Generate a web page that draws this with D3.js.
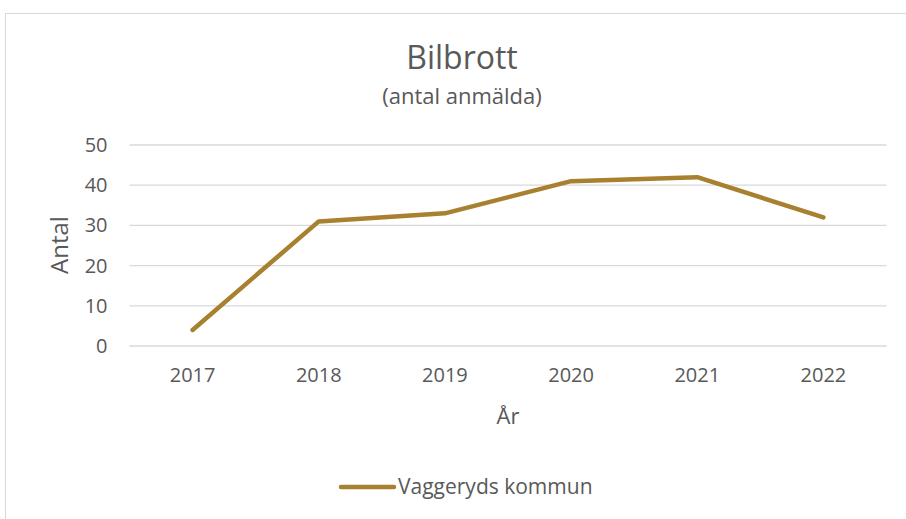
<!doctype html>
<html lang="sv">
<head>
<meta charset="utf-8">
<title>Bilbrott</title>
<style>
  body { margin: 0; background: #fff; }
  svg text { font-family: "Open Sans", "Noto Sans", sans-serif; fill: #595959; }
</style>
</head>
<body>
<div id="chart"></div>
<script src="https://cdn.jsdelivr.net/npm/d3@7"></script>
<script>
const years = ["2017", "2018", "2019", "2020", "2021", "2022"];
const values = [4, 31, 33, 41, 42, 32];
const yTicks = [0, 10, 20, 30, 40, 50];
const seriesName = "Vaggeryds kommun";

const width = 906, height = 519;
const plot = {left: 129.5, right: 886.5, top: 145, bottom: 346};
const lineColor = "#a7812f";

const svg = d3.select("#chart").append("svg")
  .attr("width", width)
  .attr("height", height);

// chart area border
svg.append("rect")
  .attr("x", 5.5).attr("y", 13.5)
  .attr("width", 920).attr("height", 520)
  .attr("fill", "#fff")
  .attr("stroke", "#d9d9d9");

const x = d3.scaleBand().domain(years).range([plot.left, plot.right]);
const y = d3.scaleLinear().domain([0, 50]).range([plot.bottom, plot.top]);

// gridlines
svg.append("g")
  .selectAll("line")
  .data(yTicks)
  .join("line")
  .attr("x1", plot.left).attr("x2", plot.right)
  .attr("y1", d => y(d)).attr("y2", d => y(d))
  .attr("stroke", "#d9d9d9")
  .attr("stroke-width", 1.3);

// y axis labels
const yAxis = svg.append("g")
  .attr("transform", "translate(" + plot.left + ",0)")
  .call(d3.axisLeft(y).tickValues(yTicks).tickSize(0).tickPadding(22));
yAxis.select(".domain").remove();
yAxis.selectAll("text").attr("font-size", 20).attr("fill", "#595959")
  .style("font-family", "'Open Sans', sans-serif");

// x axis labels
const xAxis = svg.append("g")
  .attr("transform", "translate(0," + plot.bottom + ")")
  .call(d3.axisBottom(x).tickSize(0).tickPadding(22));
xAxis.select(".domain").remove();
xAxis.selectAll("text").attr("font-size", 20).attr("fill", "#595959")
  .style("font-family", "'Open Sans', sans-serif");

// line
const line = d3.line()
  .x((d, i) => x(years[i]) + x.bandwidth() / 2)
  .y(d => y(d));

svg.append("path")
  .datum(values)
  .attr("d", line)
  .attr("fill", "none")
  .attr("stroke", lineColor)
  .attr("stroke-width", 4.5)
  .attr("stroke-linecap", "round")
  .attr("stroke-linejoin", "round");

// titles
svg.append("text")
  .attr("x", 462).attr("y", 69)
  .attr("text-anchor", "middle")
  .attr("font-size", 32)
  .text("Bilbrott");

svg.append("text")
  .attr("x", 462).attr("y", 104)
  .attr("text-anchor", "middle")
  .attr("font-size", 22)
  .text("(antal anmälda)");

// axis titles
svg.append("text")
  .attr("transform", "translate(68,245) rotate(-90)")
  .attr("text-anchor", "middle")
  .attr("font-size", 24)
  .text("Antal");

svg.append("text")
  .attr("x", 508).attr("y", 424)
  .attr("text-anchor", "middle")
  .attr("font-size", 22)
  .text("År");

// legend
svg.append("line")
  .attr("x1", 341).attr("x2", 394)
  .attr("y1", 487).attr("y2", 487)
  .attr("stroke", lineColor)
  .attr("stroke-width", 4.5)
  .attr("stroke-linecap", "round");

svg.append("text")
  .attr("x", 398).attr("y", 494)
  .attr("font-size", 21)
  .text(seriesName);
</script>
</body>
</html>
